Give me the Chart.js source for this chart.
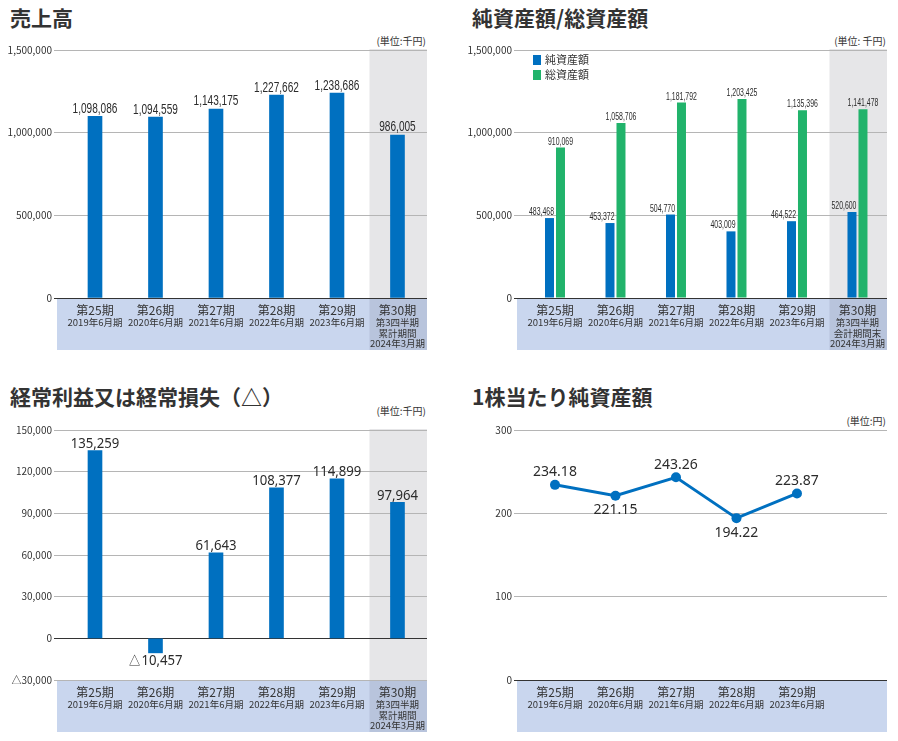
<!DOCTYPE html>
<html lang="ja">
<head>
<meta charset="utf-8">
<script src="https://cdn.jsdelivr.net/npm/chart.js@4.4.1/dist/chart.umd.min.js"></script>
<style>
  body { margin: 0; background: #fff; width: 898px; height: 741px; position: relative; overflow: hidden;
         font-family: "Noto Sans CJK JP", sans-serif; color: #333; }
  .title { position: absolute; font-weight: bold; font-size: 21px; line-height: 21px; white-space: nowrap; }
  .unit { position: absolute; font-size: 10px; line-height: 10px; white-space: nowrap; }
  canvas { position: absolute; }
</style>
</head>
<body>
<div class="title" style="left:10px; top:7px">売上高</div>
<div class="unit" style="right:472px; top:36px">(単位:千円)</div>
<canvas id="salesChart" width="440" height="350" style="left:0; top:0"></canvas>

<div class="title" style="left:472px; top:7px">純資産額/総資産額</div>
<div class="unit" style="right:12px; top:36px">(単位: 千円)</div>
<canvas id="assetsChart" width="440" height="350" style="left:460px; top:0"></canvas>

<div class="title" style="left:10px; top:386px">経常利益又は経常損失（△）</div>
<div class="unit" style="right:472px; top:406px">(単位:千円)</div>
<canvas id="incomeChart" width="440" height="352" style="left:0; top:380px"></canvas>

<div class="title" style="left:472px; top:386px">1株当たり純資産額</div>
<div class="unit" style="right:12px; top:416px">(単位:円)</div>
<canvas id="perShareChart" width="440" height="352" style="left:460px; top:380px"></canvas>

<script>
// Chart data
const periods = ['第25期', '第26期', '第27期', '第28期', '第29期', '第30期'];
const fiscalYears = ['2019年6月期', '2020年6月期', '2021年6月期', '2022年6月期', '2023年6月期', '2024年3月期'];
const cumulativeNote = ['第3四半期', '累計期間'];
const periodEndNote = ['第3四半期', '会計期間末'];

const sales = [1098086, 1094559, 1143175, 1227662, 1238686, 986005];
const netAssets = [483468, 453372, 504770, 403009, 464522, 520600];
const totalAssets = [910069, 1058706, 1181792, 1203425, 1135396, 1141478];
const ordinaryIncome = [135259, -10457, 61643, 108377, 114899, 97964];
const bookValuePerShare = [234.18, 221.15, 243.26, 194.22, 223.87];

const BLUE = '#0070c0';
const GREEN = '#21b36b';
const JP = '"Noto Sans CJK JP", sans-serif';
const LIB = '"Liberation Sans", sans-serif';

function fmt(v, decimals) {
    if (decimals) return v.toFixed(decimals);
    return (v < 0 ? '△' : '') + Math.abs(v).toLocaleString('en-US');
}

function bandLabels(count, note) {
    const out = [];
    for (let i = 0; i < count; i++) {
        if (i === 5 && note) out.push([periods[i], ...note, fiscalYears[i]]);
        else out.push([periods[i], fiscalYears[i]]);
    }
    return out;
}

function points(values) {
    return values.map((v, i) => ({ x: i, y: v }));
}

// grey column, label band and legend
const periodBand = {
    id: 'periodBand',
    beforeDraw(chart, args, opts) {
        const { ctx, chartArea: a } = chart;
        const x = chart.scales.x;
        ctx.save();
        ctx.fillStyle = '#c9d6ee';
        ctx.fillRect(a.left, a.bottom, a.right - a.left, 52);
        if (opts.shadeLast) {
            const lx = x.getPixelForValue(5) - 28;
            ctx.fillStyle = '#e6e6e8';
            ctx.fillRect(lx, a.top - 1, a.right - lx, a.bottom - a.top + 1);
            ctx.fillStyle = '#b8c4dc';
            ctx.fillRect(lx, a.bottom, a.right - lx, 52);
        }
        ctx.restore();
    },
    afterDraw(chart, args, opts) {
        const { ctx, chartArea: a } = chart;
        const x = chart.scales.x;
        ctx.save();
        ctx.fillStyle = '#333';
        ctx.textAlign = 'center';
        ctx.textBaseline = 'middle';
        opts.labels.forEach((lines, i) => {
            const cx = x.getPixelForValue(i);
            lines.forEach((line, k) => {
                if (k === 0) {
                    ctx.font = '12px ' + JP;
                    ctx.fillText(line, cx, a.bottom + 12);
                } else {
                    ctx.font = '9.5px ' + JP;
                    ctx.fillText(line, cx, a.bottom + 24.5 + (k - 1) * 10.6);
                }
            });
        });
        if (opts.legend) {
            ctx.textAlign = 'left';
            ctx.font = '11px ' + JP;
            chart.data.datasets.forEach((ds, di) => {
                const ly = a.top + 5 + di * 15;
                ctx.fillStyle = ds.backgroundColor;
                ctx.fillRect(a.left + 16, ly, 8, 10);
                ctx.fillStyle = '#333';
                ctx.fillText(ds.label, a.left + 28, ly + 5);
            });
        }
        ctx.restore();
    }
};

// value labels above bars / around points
const valueLabels = {
    id: 'valueLabels',
    afterDatasetsDraw(chart, args, opts) {
        const ctx = chart.ctx;
        ctx.save();
        ctx.fillStyle = '#2b2b2b';
        ctx.font = opts.font;
        ctx.textBaseline = 'alphabetic';
        chart.data.datasets.forEach((ds, di) => {
            const meta = chart.getDatasetMeta(di);
            const values = ds.data.map(d => d.y);
            meta.data.forEach((el, i) => {
                const v = values[i];
                let x = el.x;
                let y;
                let align = 'center';
                if (meta.type === 'line') {
                    const below = i > 0 && i < values.length - 1 && v < values[i - 1] && v < values[i + 1];
                    y = below ? el.y + 18.5 : el.y - 8.5;
                } else {
                    y = v < 0 ? el.y + opts.gap + opts.cap : el.y - opts.gap;
                    if (opts.rightAlign && opts.rightAlign[di]) {
                        align = 'right';
                        x = el.x + el.width / 2;
                    }
                }
                ctx.save();
                ctx.translate(x, y);
                ctx.scale(opts.scaleX || 1, 1);
                ctx.textAlign = align;
                ctx.fillText(fmt(v, opts.decimals), 0, 0);
                ctx.restore();
            });
        });
        ctx.restore();
    }
};

function baseOptions(yMin, yMax, yStep, bandOpts, labelOpts, tickFmt) {
    return {
        responsive: false,
        animation: false,
        layout: { padding: { top: 50, right: 13, bottom: 0, left: 0 } },
        scales: {
            x: {
                type: 'linear',
                min: -0.628,
                max: 5.488,
                offset: false,
                ticks: { display: false },
                grid: { display: false },
                border: { display: false },
                afterBuildTicks: scale => { scale.ticks = periods.map((p, i) => ({ value: i })); },
                afterFit: scale => { scale.height = 52; }
            },
            y: {
                min: yMin,
                max: yMax,
                ticks: {
                    stepSize: yStep,
                    padding: 2,
                    color: '#333',
                    font: { family: JP, size: 10 },
                    callback: tickFmt || (v => fmt(v))
                },
                grid: {
                    color: c => c.tick.value === 0 ? '#333' : '#b5b5b5',
                    tickLength: 3
                },
                border: { display: false },
                afterFit: scale => { scale.width = 57; }
            }
        },
        plugins: {
            legend: { display: false },
            tooltip: { enabled: false },
            periodBand: bandOpts,
            valueLabels: labelOpts
        }
    };
}

new Chart(document.getElementById('salesChart'), {
    type: 'bar',
    data: {
        datasets: [{ label: '売上高', data: points(sales), backgroundColor: BLUE, barThickness: 14 }]
    },
    options: baseOptions(0, 1500000, 500000,
        { labels: bandLabels(6, cumulativeNote), shadeLast: true },
        { font: '14px ' + LIB, scaleX: 0.72, gap: 3.5, cap: 10 }),
    plugins: [periodBand, valueLabels]
});

new Chart(document.getElementById('assetsChart'), {
    type: 'bar',
    data: {
        datasets: [
            { label: '純資産額', data: points(netAssets), backgroundColor: BLUE,
              categoryPercentage: 0.3636, barPercentage: 0.818 },
            { label: '総資産額', data: points(totalAssets), backgroundColor: GREEN,
              categoryPercentage: 0.3636, barPercentage: 0.818 }
        ]
    },
    options: baseOptions(0, 1500000, 500000,
        { labels: bandLabels(6, periodEndNote), shadeLast: true, legend: true },
        { font: '11px ' + LIB, scaleX: 0.63, gap: 3, cap: 8 , rightAlign: [true, false] }),
    plugins: [periodBand, valueLabels]
});

new Chart(document.getElementById('incomeChart'), {
    type: 'bar',
    data: {
        datasets: [{ label: '経常利益', data: points(ordinaryIncome), backgroundColor: BLUE, barThickness: 14 }]
    },
    options: baseOptions(-30000, 150000, 30000,
        { labels: bandLabels(6, cumulativeNote), shadeLast: true },
        { font: '14px "Noto Sans", sans-serif', scaleX: 0.94, gap: 2.5, cap: 10 }),
    plugins: [periodBand, valueLabels]
});

new Chart(document.getElementById('perShareChart'), {
    type: 'line',
    data: {
        datasets: [{
            label: '1株当たり純資産額',
            data: points(bookValuePerShare),
            borderColor: BLUE,
            borderWidth: 3,
            pointRadius: 5,
            pointBackgroundColor: BLUE,
            pointBorderWidth: 0,
            tension: 0
        }]
    },
    options: baseOptions(0, 300, 100,
        { labels: bandLabels(5), shadeLast: false },
        { font: '14px "Noto Sans", sans-serif', decimals: 2 },
        v => v),
    plugins: [periodBand, valueLabels]
});
</script>
</body>
</html>
